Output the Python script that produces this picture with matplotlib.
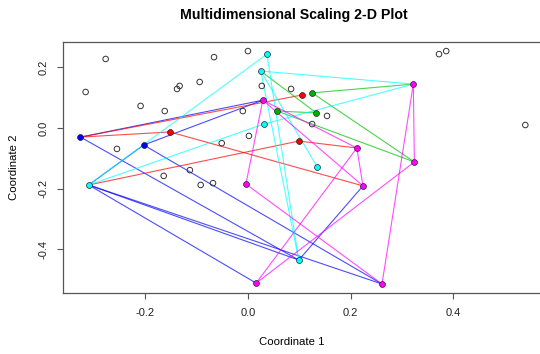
import numpy as np
import matplotlib.pyplot as plt

plt.rcParams['font.family'] = ['Liberation Sans', 'DejaVu Sans']

# open (unlinked) points
open_x = [-0.277, -0.316, -0.209, -0.162, -0.138, -0.133, -0.094, -0.066, 0.000, 0.027,
          -0.010, 0.002, -0.051, -0.255, 0.084, 0.372, 0.386, 0.540, 0.154, 0.125,
          -0.164, -0.113, -0.092, -0.068]
open_y = [0.228, 0.119, 0.073, 0.056, 0.129, 0.139, 0.152, 0.234, 0.254, 0.139,
          0.056, -0.026, -0.050, -0.069, 0.129, 0.244, 0.254, 0.010, 0.040, 0.013,
          -0.158, -0.139, -0.188, -0.182]

# coloured points, grouped by colour
blue_pts = {'B1': (-0.326, -0.030), 'B2': (-0.203, -0.056)}
red_pts = {'R1': (-0.152, -0.013), 'R2': (0.105, 0.109), 'R3': (0.099, -0.043)}
green_pts = {'G1': (0.125, 0.116), 'G2': (0.133, 0.050), 'G3': (0.057, 0.056)}
cyan_pts = {'C1': (0.037, 0.244), 'C2': (0.025, 0.188), 'C3': (0.031, 0.013),
            'C4': (0.135, -0.129), 'C5': (-0.310, -0.188), 'C6': (0.099, -0.436)}
magenta_pts = {'M1': (0.029, 0.092), 'M2': (-0.004, -0.185), 'M3': (0.016, -0.512),
               'M4': (0.322, 0.145), 'M5': (0.324, -0.112), 'M6': (0.212, -0.066),
               'M7': (0.224, -0.191), 'M8': (0.261, -0.515)}

# links, coloured by group
blue_links = [('B1', 'M1'), ('B2', 'M1'), ('B1', 'C6'), ('B2', 'M8'), ('C5', 'M8'),
              ('C5', 'M3'), ('C5', 'C6'), ('C5', 'B2'), ('M7', 'C6')]
red_links = [('B1', 'R2'), ('B1', 'R1'), ('R1', 'M7'), ('C5', 'R3'), ('R3', 'M6')]
green_links = [('G1', 'M4'), ('G1', 'M5'), ('G3', 'G2'), ('G3', 'M5'), ('C2', 'G2')]
cyan_links = [('C5', 'C1'), ('C5', 'C3'), ('C3', 'M4'), ('C2', 'M4'), ('C1', 'C6'),
              ('C2', 'C6'), ('C2', 'C4')]
magenta_links = [('M1', 'M2'), ('M1', 'M7'), ('M1', 'M6'), ('M2', 'M8'), ('M3', 'M5'),
                 ('M3', 'M6'), ('M6', 'M7'), ('M4', 'M5'), ('M4', 'M8')]

all_pts = {**blue_pts, **red_pts, **green_pts, **cyan_pts, **magenta_pts}

fig = plt.figure(figsize=(5.4, 3.54), dpi=100)
ax = fig.add_axes([0.1167, 0.1712, 0.889, 0.7110])

ax.scatter(open_x, open_y, s=16, facecolors='none', edgecolors='#333333', linewidths=0.7, zorder=2)

link_sets = [(blue_links, '#0000FF'), (red_links, '#FF0000'), (green_links, '#00C000'),
             (cyan_links, '#00FFFF'), (magenta_links, '#FF00FF')]
for links, col in link_sets:
    for a, b in links:
        xa, ya = all_pts[a]
        xb, yb = all_pts[b]
        ax.plot([xa, xb], [ya, yb], color=col, lw=0.8, alpha=0.7, zorder=1)

point_sets = [(blue_pts, '#0000FF'), (red_pts, '#FF0000'), (green_pts, '#00B000'),
              (cyan_pts, '#00FFFF'), (magenta_pts, '#FF00FF')]
for pts, col in point_sets:
    xs = [p[0] for p in pts.values()]
    ys = [p[1] for p in pts.values()]
    ax.scatter(xs, ys, s=18, c=col, edgecolors='#222222', linewidths=0.5, zorder=3)

ax.set_xlim(-0.360, 0.5746)
ax.set_ylim(-0.546, 0.285)
ax.set_xticks([-0.2, 0.0, 0.2, 0.4])
ax.set_xticklabels(['-0.2', '0.0', '0.2', '0.4'])
ax.set_yticks([-0.4, -0.2, 0.0, 0.2])
ax.set_yticklabels(['-0.4', '-0.2', '0.0', '0.2'])
ax.tick_params(direction='out', length=4.5, width=0.8, color='#555555',
               labelsize=8, labelcolor='#222222', pad=6)
ax.tick_params(axis='y', labelrotation=90)
for lab in ax.get_yticklabels():
    lab.set_va('center')
for sp in ax.spines.values():
    sp.set_color('#555555')
    sp.set_linewidth(0.9)

fig.text(293.5 / 540, 1 - 14.5 / 354, 'Multidimensional Scaling 2-D Plot',
         ha='center', va='center', fontsize=10.2, fontweight='bold')
fig.text(292 / 540, 1 - 342 / 354, 'Coordinate 1', ha='center', va='center', fontsize=8.2)
fig.text(14 / 540, 1 - 167 / 354, 'Coordinate 2', ha='center', va='center',
         fontsize=8.2, rotation=90)

fig.savefig('out.png', dpi=100)
